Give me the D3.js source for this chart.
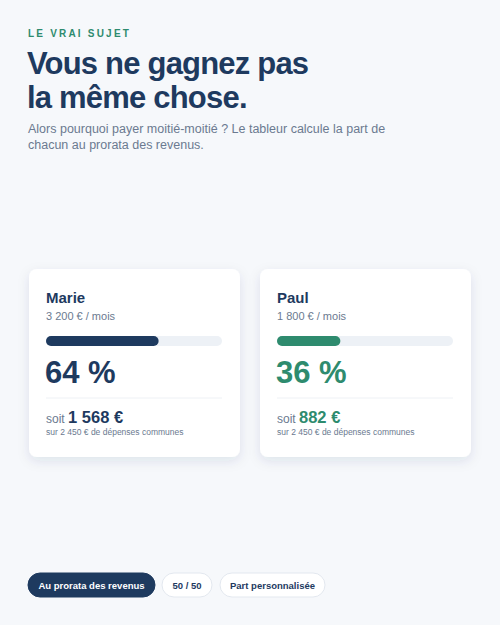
<!DOCTYPE html>
<html><head><meta charset="utf-8">
<script src="https://cdn.jsdelivr.net/npm/d3@7"></script>
<style>body{margin:0;background:#f6f8fb;font-family:"Liberation Sans",Arial,sans-serif}</style>
</head><body><svg id="c" width="500" height="625"></svg>
<script>
const names = ["Marie","Paul"];
const incomes = [3200, 1800];
const shares = [64, 36];
const amounts = ["1 568 €","882 €"];
const incomeLabels = ["3 200 € / mois","1 800 € / mois"];
const colors = ["#1e3a5f","#2e8b6e"];
const total = "2 450 €";
const buttons = ["Au prorata des revenus","50 / 50","Part personnalisée"];

const svg = d3.select("#c");
const navy="#1e3a5f", grey="#6b7a90";
const defs = svg.append("defs");
const f = defs.append("filter").attr("id","sh").attr("x","-20%").attr("y","-20%").attr("width","140%").attr("height","150%");
f.append("feDropShadow").attr("dx",0).attr("dy",4).attr("stdDeviation",6).attr("flood-color","#1e3a5f").attr("flood-opacity",0.1);

svg.append("text").attr("x",28).attr("y",37).attr("fill","#2e8b6e").attr("font-size",10).attr("font-weight","bold").attr("letter-spacing",2.2).text("LE VRAI SUJET");
["Vous ne gagnez pas","la même chose."].forEach((t,i)=>svg.append("text").attr("x",27).attr("y",74+i*34).attr("fill",navy).attr("font-size",31).attr("font-weight","bold").attr("letter-spacing",-0.8).text(t));
["Alors pourquoi payer moitié-moitié ? Le tableur calcule la part de","chacun au prorata des revenus."].forEach((t,i)=>svg.append("text").attr("x",28).attr("y",133+i*16).attr("fill",grey).attr("font-size",12.5).text(t));

const cardX = d3.scaleOrdinal().domain(names).range([29,260]);
const cw=211, barW=176;
const x = d3.scaleLinear().domain([0,100]).range([0,barW]);
names.forEach((n,i)=>{
  const g = svg.append("g").attr("transform",`translate(${cardX(n)},269)`);
  g.append("rect").attr("width",cw).attr("height",188).attr("rx",8).attr("fill","#fff").attr("filter","url(#sh)");
  g.append("text").attr("x",17).attr("y",34).attr("fill",navy).attr("font-size",15).attr("font-weight","bold").text(n);
  g.append("text").attr("x",17).attr("y",51).attr("fill",grey).attr("font-size",11).text(incomeLabels[i]);
  g.append("rect").attr("x",17).attr("y",67).attr("width",x(100)).attr("height",10).attr("rx",5).attr("fill","#edf1f6");
  g.append("rect").attr("x",17).attr("y",67).attr("width",x(shares[i])).attr("height",10).attr("rx",5).attr("fill",colors[i]);
  g.append("text").attr("x",16).attr("y",114).attr("fill",colors[i]).attr("font-size",31).attr("font-weight","bold").text(shares[i]+" %");
  g.append("line").attr("x1",17).attr("x2",17+barW).attr("y1",129).attr("y2",129).attr("stroke","#eef1f5");
  const t=g.append("text").attr("x",17).attr("y",154).attr("fill",grey).attr("font-size",12).text("soit ");
  t.append("tspan").attr("fill",colors[i]).attr("font-size",16.5).attr("font-weight","bold").text(amounts[i]);
  g.append("text").attr("x",17).attr("y",166).attr("fill",grey).attr("font-size",8.5).text("sur "+total+" de dépenses communes");
});

const bx=[28,162,220], bw=[127,50,105];
buttons.forEach((b,i)=>{
  const g=svg.append("g").attr("transform",`translate(${bx[i]},573)`);
  g.append("rect").attr("width",bw[i]).attr("height",24).attr("rx",12).attr("fill",i==0?navy:"#fff").attr("stroke",i==0?navy:"#e3e8ef");
  g.append("text").attr("x",bw[i]/2).attr("y",15.5).attr("text-anchor","middle").attr("fill",i==0?"#fff":navy).attr("font-size",9.5).attr("font-weight","bold").text(b);
});
</script></body></html>
